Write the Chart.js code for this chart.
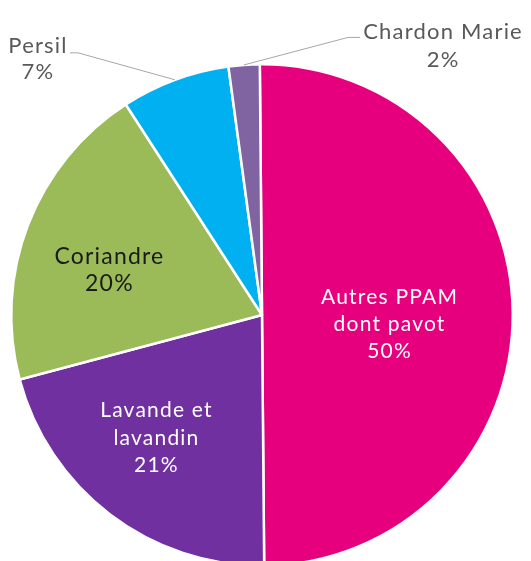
<!DOCTYPE html>
<html>
<head>
<meta charset="utf-8">
<script src="https://cdn.jsdelivr.net/npm/chart.js@4"></script>
<style>
html,body{margin:0;padding:0;background:#fff;overflow:hidden;}
#wrap{width:531px;height:600px;position:relative;}
</style>
</head>
<body>
<div id="wrap"><canvas id="c" width="531" height="600"></canvas></div>
<script>
// ---- data ----
const categories = ["Autres PPAM dont pavot", "Lavande et lavandin", "Coriandre", "Persil", "Chardon Marie"];
const labelLines = [["Autres PPAM", "dont pavot"], ["Lavande et", "lavandin"], ["Coriandre"], ["Persil"], ["Chardon Marie"]];
const values = [50, 21, 20, 7, 2];
const colors = ["#E6007E", "#7030A0", "#9BBB59", "#00B0F0", "#8064A2"];

// ---- label layout (styles / placement only) ----
const labelStyle = [
  {mode: "in", factor: 0.51, shift: 4.5, size: 21, lh: 27, color: "#ffffff"},
  {mode: "in", factor: 0.644, shift: 3.5, size: 21, lh: 27.5, color: "#ffffff"},
  {mode: "in", factor: 0.635, shift: -4.5, size: 23, lh: 27, color: "#1a1a1a"},
  {mode: "out", elbow: [-97, -27], tail: -8, textDx: -40, base: 0, lh: 26.5, size: 22, color: "#595959"},
  {mode: "out", elbow: [104, -27.5], tail: 12, textDx: 95, base: 1.5, lh: 28, size: 22, color: "#595959"}
];
const LETTER_SPACING = "1.2px";

const labelPlugin = {
  id: "pieLabels",
  afterDatasetsDraw(chart) {
    const ctx = chart.ctx;
    const meta = chart.getDatasetMeta(0);
    const total = values.reduce((a, b) => a + b, 0);
    ctx.save();
    ctx.textAlign = "center";
    meta.data.forEach((arc, i) => {
      const p = arc.getProps(["x", "y", "startAngle", "endAngle", "outerRadius"], true);
      const st = labelStyle[i];
      ctx.font = st.size + "px Lato";
      try { ctx.letterSpacing = LETTER_SPACING; } catch (e) {}
      const pct = Math.round(values[i] / total * 100) + "%";
      const lines = labelLines[i].concat([pct]);
      const mid = (p.startAngle + p.endAngle) / 2;
      let cx, firstBase;
      if (st.mode === "in") {
        const a = mid + st.shift * Math.PI / 180;
        const r = p.outerRadius * st.factor;
        cx = p.x + Math.cos(a) * r;
        const cy = p.y + Math.sin(a) * r;
        const cap = st.size * 0.72;
        firstBase = cy - (lines.length - 1) * st.lh / 2 + cap / 2;
      } else {
        const ex = p.x + Math.cos(mid) * p.outerRadius;
        const ey = p.y + Math.sin(mid) * p.outerRadius;
        const bx = ex + st.elbow[0], by = ey + st.elbow[1];
        ctx.strokeStyle = "#A6A6A6";
        ctx.lineWidth = 1;
        ctx.beginPath();
        ctx.moveTo(ex, ey);
        ctx.lineTo(bx, by);
        ctx.lineTo(bx + st.tail, by);
        ctx.stroke();
        cx = bx + st.textDx;
        firstBase = by + st.base;
      }
      ctx.fillStyle = st.color;
      ctx.textBaseline = "alphabetic";
      lines.forEach((t, k) => ctx.fillText(t, cx, firstBase + k * st.lh));
    });
    ctx.restore();
  }
};

new Chart(document.getElementById("c"), {
  type: "pie",
  data: {
    labels: categories,
    datasets: [{
      data: values,
      backgroundColor: colors,
      borderColor: "#ffffff",
      borderWidth: 2.5
    }]
  },
  options: {
    responsive: false,
    animation: false,
    rotation: -0.5,
    layout: {padding: {left: 10, right: 17, top: 63, bottom: 33}},
    plugins: {legend: {display: false}, tooltip: {enabled: false}}
  },
  plugins: [labelPlugin]
});
</script>
</body>
</html>
